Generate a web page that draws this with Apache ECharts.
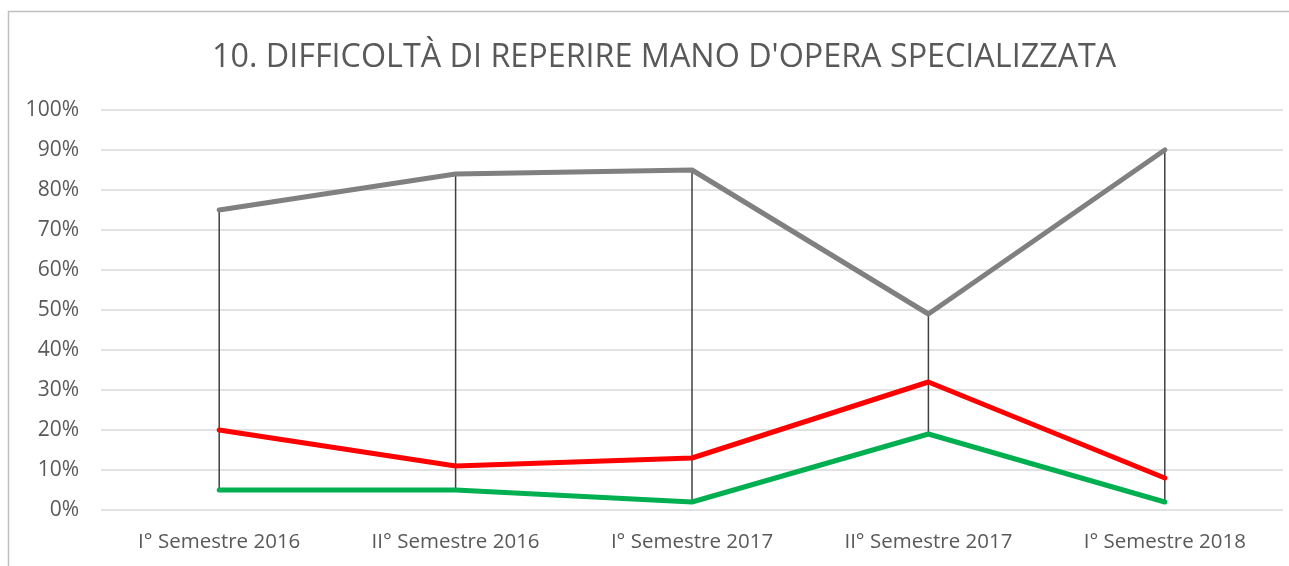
<!DOCTYPE html>
<html>
<head>
<meta charset="utf-8">
<script src="https://cdn.jsdelivr.net/npm/echarts@6/dist/echarts.min.js"></script>
<style>
  html, body { margin: 0; padding: 0; background: #fff; }
  #chart { width: 1289px; height: 566px; }
</style>
</head>
<body>
<div id="chart"></div>
<script>
'use strict';

// categorie (semestri)
const categories = ['I° Semestre 2016', 'II° Semestre 2016', 'I° Semestre 2017', 'II° Semestre 2017', 'I° Semestre 2018'];

// valori in percentuale
const greyValues = [75, 84, 85, 49, 90];
const redValues = [20, 11, 13, 32, 8];
const greenValues = [5, 5, 2, 19, 2];

const yTicks = [0, 10, 20, 30, 40, 50, 60, 70, 80, 90, 100];

// linee max-min per ogni categoria
const dropData = categories.map((c, i) => {
    const vals = [greyValues[i], redValues[i], greenValues[i]];
    return [i, Math.min(...vals), Math.max(...vals)];
});

const FONT = "'Open Sans', 'Noto Sans', sans-serif";

const chart = echarts.init(document.getElementById('chart'));

const option = {
    animation: false,
    backgroundColor: '#ffffff',
    title: {
        text: "10. DIFFICOLTÀ DI REPERIRE MANO D'OPERA SPECIALIZZATA",
        left: 207,
        top: 37,
        textStyle: { fontFamily: FONT, fontSize: 32.3, fontWeight: 'normal', color: '#595959' }
    },
    graphic: [{
        type: 'rect',
        shape: { x: 8.5, y: 11.5, width: 1320, height: 620 },
        style: { fill: 'none', stroke: '#bfbfbf', lineWidth: 1.5 },
        silent: true
    }],
    grid: { left: 101, right: 6, top: 110, bottom: 56, containLabel: false },
    xAxis: {
        type: 'category',
        data: categories,
        boundaryGap: true,
        axisLine: { show: false },
        axisTick: { show: false },
        axisLabel: { fontFamily: FONT, fontSize: 20.5, color: '#595959', margin: 22, interval: 0 }
    },
    yAxis: {
        type: 'value',
        min: 0,
        max: 100,
        interval: 10,
        axisLine: { show: false },
        axisTick: { show: false },
        axisLabel: {
            fontFamily: FONT, fontSize: 21, color: '#595959', margin: 22,
            formatter: v => yTicks.includes(v) ? v + '%' : ''
        },
        splitLine: { lineStyle: { color: '#d9d9d9', width: 1.5 } }
    },
    series: [
        {
            type: 'custom',
            z: 1,
            data: dropData,
            renderItem: (params, api) => {
                const p1 = api.coord([api.value(0), api.value(1)]);
                const p2 = api.coord([api.value(0), api.value(2)]);
                return {
                    type: 'line',
                    shape: { x1: p1[0], y1: p1[1], x2: p2[0], y2: p2[1] },
                    style: { stroke: '#404040', lineWidth: 1.5 }
                };
            }
        },
        {
            name: 'grigio',
            type: 'line',
            data: greyValues,
            symbol: 'none',
            z: 3,
            lineStyle: { color: '#808080', width: 5, cap: 'round', join: 'round' }
        },
        {
            name: 'rosso',
            type: 'line',
            data: redValues,
            symbol: 'none',
            z: 3,
            lineStyle: { color: '#ff0000', width: 5, cap: 'round', join: 'round' }
        },
        {
            name: 'verde',
            type: 'line',
            data: greenValues,
            symbol: 'none',
            z: 3,
            lineStyle: { color: '#00b050', width: 5, cap: 'round', join: 'round' }
        }
    ]
};

chart.setOption(option);
</script>
</body>
</html>
